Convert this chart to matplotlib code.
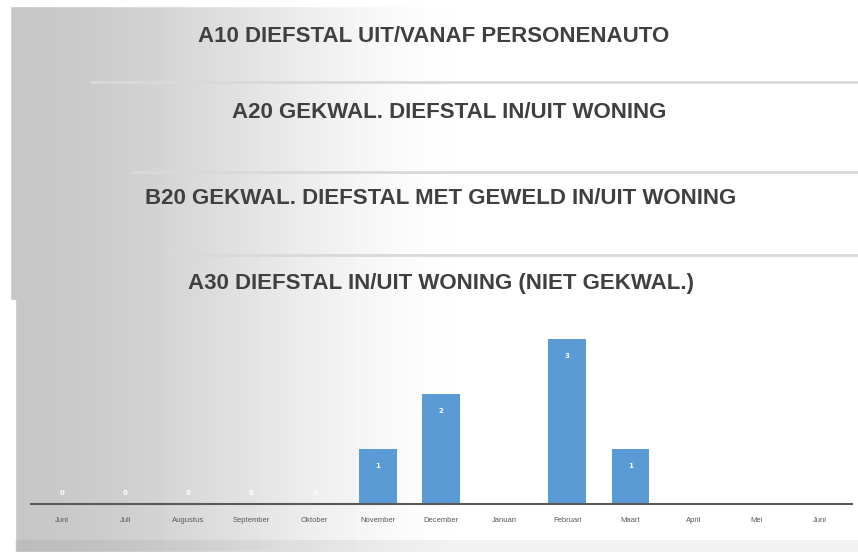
import numpy as np
import matplotlib.pyplot as plt
from matplotlib.patches import Rectangle

# Monthly counts for A30 (June through June)
months = ["Juni", "Juli", "Augustus", "September", "Oktober", "November",
          "December", "Januari", "Februari", "Maart", "April", "Mei", "Juni"]
counts = [0, 0, 0, 0, 0, 1, 2, 0, 3, 1, None, None, None]

panel_titles = [
    "A10 DIEFSTAL UIT/VANAF PERSONENAUTO",
    "A20 GEKWAL. DIEFSTAL IN/UIT WONING",
    "B20 GEKWAL. DIEFSTAL MET GEWELD IN/UIT WONING",
    "A30 DIEFSTAL IN/UIT WONING (NIET GEKWAL.)",
]

W, H = 858, 558
TITLE_FONT = ["Liberation Sans Narrow", "Liberation Sans", "DejaVu Sans"]
TEXT_GREY = "#404040"
BAR_BLUE = "#5b9bd5"

fig = plt.figure(figsize=(W / 100, H / 100), dpi=100)

# Background layer in pixel coordinates
bg = fig.add_axes([0, 0, 1, 1])
bg.set_xlim(0, W)
bg.set_ylim(H, 0)
bg.axis("off")

x = np.linspace(0, W, W)
t = np.clip((x - 10) / 480.0, 0, 1)
shade = 0.78 + 0.22 * (3 * t**2 - 2 * t**3)
grad = np.tile(shade, (H, 1))
bg.imshow(grad, cmap="gray", vmin=0, vmax=1, extent=[0, W, H, 0],
          aspect="auto", interpolation="bilinear", zorder=0)

# white margins around the stacked panels
bg.add_patch(Rectangle((0, 0), W, 6, color="white", zorder=1))
bg.add_patch(Rectangle((0, 0), 10, 300, color="white", zorder=1))
bg.add_patch(Rectangle((0, 300), 15, H - 300, color="white", zorder=1))
bg.add_patch(Rectangle((0, 552), W, 6, color="white", zorder=1))
# slightly darker band at the bottom of the chart panel
bg.add_patch(Rectangle((15, 540), W - 15, 12, color="#000000", alpha=0.05,
                       lw=0, zorder=1))

# separators between the stacked panels
for yy, x0 in [(82, 90), (172, 130), (255, 170)]:
    bg.plot([x0, W], [yy, yy], color="#d9d9d9", lw=2, zorder=2,
            solid_capstyle="butt")

# panel titles
for title, yy, xc in zip(panel_titles, [36, 112, 198, 284],
                         [434, 449, 441, 441]):
    bg.text(xc, yy, title, ha="center", va="center", fontsize=16,
            fontweight="bold", color=TEXT_GREY, family=TITLE_FONT, zorder=3)

# Bar chart for the bottom panel
left, right = 30.5, 851.5
base, top = 504, 504 - 3.3 * 55
ax = fig.add_axes([left / W, (H - base) / H, (right - left) / W,
                   (base - top) / H])
ax.patch.set_alpha(0)
pos = np.arange(len(months))
vals = [0 if v is None else v for v in counts]
ax.bar(pos, vals, width=0.6, color=BAR_BLUE, zorder=2)
ax.set_xlim(-0.5, len(months) - 0.5)
ax.set_ylim(0, 3.3)

for p, v in zip(pos, counts):
    if v is None:
        continue
    if v == 0:
        ax.annotate("0", (p, 0), xytext=(0, 8), textcoords="offset points",
                    ha="center", va="center", fontsize=5, color="white",
                    fontweight="bold")
    else:
        ax.annotate(str(v), (p, v), xytext=(0, -12),
                    textcoords="offset points", ha="center", va="center",
                    fontsize=5, color="white", fontweight="bold")

for s in ["top", "right", "left"]:
    ax.spines[s].set_visible(False)
ax.spines["bottom"].set_color("#595959")
ax.spines["bottom"].set_linewidth(1.5)
ax.set_yticks([])
ax.set_xticks(pos)
ax.set_xticklabels(months, fontsize=5.5, color="#595959", family=TITLE_FONT)
ax.tick_params(axis="x", length=0, pad=9)

fig.savefig("out.png", dpi=100)
